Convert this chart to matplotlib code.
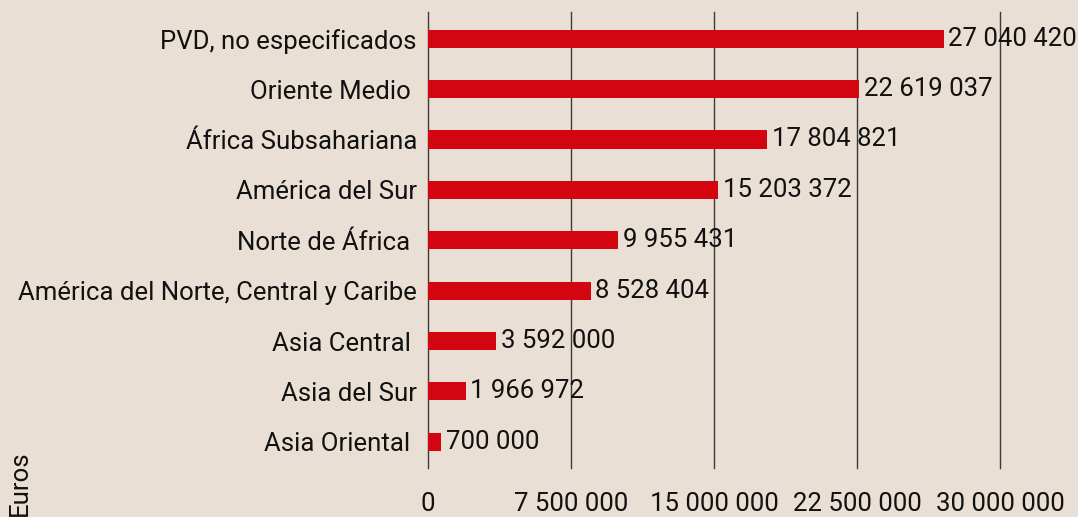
import matplotlib
matplotlib.use("Agg")
import matplotlib.pyplot as plt

categories = ["PVD, no especificados", "Oriente Medio ", "África Subsahariana",
              "América del Sur", "Norte de África ",
              "América del Norte, Central y Caribe", "Asia Central ",
              "Asia del Sur", "Asia Oriental "]
values = [27040420, 22619037, 17804821, 15203372, 9955431, 8528404,
          3592000, 1966972, 700000]
xticks = [0, 7500000, 15000000, 22500000, 30000000]
xtick_labels = ["0", "7 500 000", "15 000 000", "22 500 000", "30 000 000"]
axis_title = "Euros"

BG = "#eadfd4"
RED = "#d20511"
FS = 18.5

plt.rcParams['font.family'] = ['Roboto', 'DejaVu Sans']

fig = plt.figure(figsize=(10.78, 5.17), dpi=100, facecolor=BG)
ax = fig.add_axes([428/1078, 1-468/517, 572/1078, 456/517])
ax.set_facecolor(BG)

y = list(range(len(categories)))
ax.barh(y, values, height=0.36, color=RED, zorder=3)
ax.set_ylim(8.52, -0.53)
ax.set_xlim(0, 30000000)

def fmt(v):
    return f"{v:,}".replace(",", " ")

for yi, v in zip(y, values):
    ax.annotate(fmt(v), xy=(v, yi), xytext=(3.5, 0), textcoords="offset points",
                va="center", ha="left", fontsize=FS, color="#111111",
                zorder=4, annotation_clip=False)

ax.set_yticks(y)
ax.set_yticklabels(categories, fontsize=FS, color="#111111")
ax.set_xticks(xticks)
ax.set_xticklabels(xtick_labels, fontsize=FS, color="#111111")
ax.tick_params(axis="both", length=0)
ax.tick_params(axis="y", pad=8)
ax.tick_params(axis="x", pad=17)

for x in xticks:
    ax.axvline(x, color="#3a3a3a", lw=1.0, zorder=2, clip_on=False)
for s in ax.spines.values():
    s.set_visible(False)

fig.text(20/1078, 1-483/517, axis_title, rotation=90, ha="center", va="center",
         fontsize=FS, color="#111111")

fig.savefig("out.png", dpi=100, facecolor=BG)
